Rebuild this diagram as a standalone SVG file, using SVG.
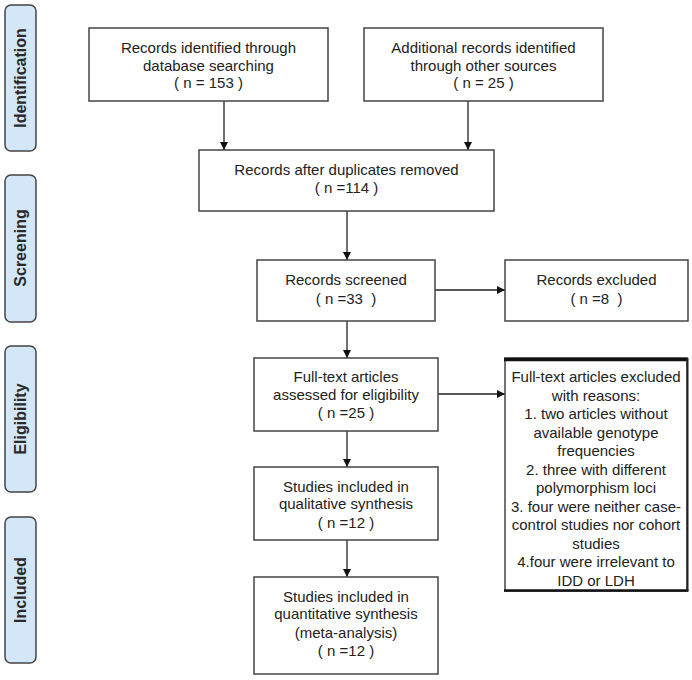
<svg xmlns="http://www.w3.org/2000/svg" width="692" height="680" viewBox="0 0 692 680">
<style>
.box{fill:#fff;stroke:#444;stroke-width:1.5}
.side{fill:#d3e7f8;stroke:#444;stroke-width:1.5}
.t{font-family:"Liberation Sans",Arial,sans-serif;font-size:15px;fill:#222;text-anchor:middle}
.st{font-family:"Liberation Sans",Arial,sans-serif;font-size:16px;font-weight:bold;fill:#2a2a2a;text-anchor:middle}
.c{stroke:#222;stroke-width:1.3;fill:none;marker-end:url(#ah)}
</style>
<defs>
<marker id="ah" markerWidth="10" markerHeight="10" refX="8" refY="4" orient="auto" markerUnits="userSpaceOnUse">
<path d="M0,0 L8,4 L0,8 Z" fill="#111"/>
</marker>
</defs>
<rect width="692" height="680" fill="#fff"/>
<g id="side-identification"><rect class="side" x="5" y="5" width="31" height="146" rx="6"/><text class="st" transform="translate(26,78) rotate(-90)">Identification</text></g>
<g id="side-screening"><rect class="side" x="5" y="175" width="31" height="147" rx="6"/><text class="st" transform="translate(26,248) rotate(-90)">Screening</text></g>
<g id="side-eligibility"><rect class="side" x="5" y="346" width="31" height="146" rx="6"/><text class="st" transform="translate(26,419) rotate(-90)">Eligibility</text></g>
<g id="side-included"><rect class="side" x="5" y="517" width="31" height="146" rx="6"/><text class="st" transform="translate(26,590) rotate(-90)">Included</text></g>
<g id="connectors">
<line class="c" x1="224" y1="101" x2="224" y2="150"/>
<line class="c" x1="468" y1="101" x2="468" y2="150"/>
<line class="c" x1="347" y1="211" x2="347" y2="260"/>
<line class="c" x1="435" y1="290" x2="505" y2="290"/>
<line class="c" x1="347" y1="321" x2="347" y2="358"/>
<line class="c" x1="438" y1="394" x2="505" y2="394"/>
<line class="c" x1="347" y1="431" x2="347" y2="467"/>
<line class="c" x1="347" y1="540" x2="347" y2="577"/>
</g>
<g id="n-db"><rect class="box" x="89" y="28" width="239" height="73"/>
<text class="t" x="208.5" y="53">Records identified through</text>
<text class="t" x="208.5" y="71">database searching</text>
<text class="t" x="208.5" y="88">( n = 153 )</text></g>
<g id="n-other"><rect class="box" x="364" y="28" width="239" height="73"/>
<text class="t" x="483.5" y="53">Additional records identified</text>
<text class="t" x="483.5" y="71">through other sources</text>
<text class="t" x="483.5" y="88">( n = 25 )</text></g>
<g id="n-dup"><rect class="box" x="199" y="150" width="295" height="61"/>
<text class="t" x="346.5" y="175">Records after duplicates removed</text>
<text class="t" x="346.5" y="193">( n =114 )</text></g>
<g id="n-screened"><rect class="box" x="257" y="260" width="178" height="61"/>
<text class="t" x="346" y="285">Records screened</text>
<text class="t" x="346" y="304" xml:space="preserve">( n =33  )</text></g>
<g id="n-excluded"><rect class="box" x="505" y="260" width="183" height="61"/>
<text class="t" x="596.5" y="285">Records excluded</text>
<text class="t" x="596.5" y="304" xml:space="preserve">( n =8  )</text></g>
<g id="n-fulltext"><rect class="box" x="254" y="358" width="184" height="73"/>
<text class="t" x="346" y="382">Full-text articles</text>
<text class="t" x="346" y="400">assessed for eligibility</text>
<text class="t" x="346" y="418">( n =25 )</text></g>
<g id="n-reasons"><rect class="box" x="505" y="358" width="182" height="233"/>
<line x1="504" y1="359.5" x2="688" y2="359.5" stroke="#111" stroke-width="3.5"/>
<line x1="504" y1="590.5" x2="688.5" y2="590.5" stroke="#111" stroke-width="2.5"/>
<line x1="687.5" y1="358" x2="687.5" y2="591" stroke="#222" stroke-width="2"/>
<text class="t" x="596" y="382">Full-text articles excluded</text>
<text class="t" x="596" y="400.5">with reasons:</text>
<text class="t" x="596" y="419">1. two articles without</text>
<text class="t" x="596" y="437.5">available genotype</text>
<text class="t" x="596" y="456">frequencies</text>
<text class="t" x="596" y="474.5">2. three with different</text>
<text class="t" x="596" y="493">polymorphism loci</text>
<text class="t" x="596" y="511.5">3. four were neither case-</text>
<text class="t" x="596" y="530">control studies nor cohort</text>
<text class="t" x="596" y="548.5">studies</text>
<text class="t" x="596" y="567">4.four were irrelevant to</text>
<text class="t" x="596" y="585.5">IDD or LDH</text></g>
<g id="n-qual"><rect class="box" x="254" y="467" width="184" height="73"/>
<text class="t" x="346" y="492">Studies included in</text>
<text class="t" x="346" y="509">qualitative synthesis</text>
<text class="t" x="346" y="528">( n =12 )</text></g>
<g id="n-quant"><rect class="box" x="254" y="577" width="184" height="97"/>
<text class="t" x="346" y="602">Studies included in</text>
<text class="t" x="346" y="619">quantitative synthesis</text>
<text class="t" x="346" y="638">(meta-analysis)</text>
<text class="t" x="346" y="656">( n =12 )</text></g>
</svg>
